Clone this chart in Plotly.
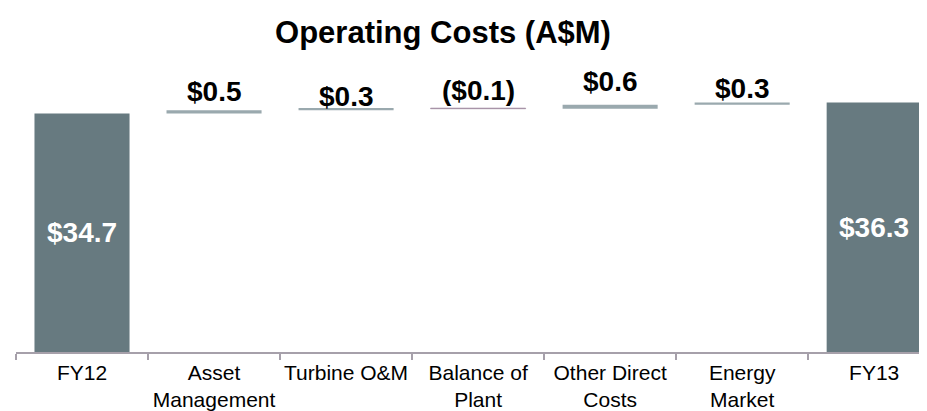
import plotly.graph_objects as go

categories = ["FY12", "Asset<br>Management", "Turbine O&M", "Balance of<br>Plant",
              "Other Direct<br>Costs", "Energy<br>Market", "FY13"]
values = [34.7, 0.5, 0.3, -0.1, 0.6, 0.3, 36.3]
measures = ["absolute", "relative", "relative", "relative", "relative", "relative", "total"]
label_yshift = [0, 19, 12, 18, 23, 14, 0]

TOTAL_C = "#677a80"
UP_C = "#9aa9ae"
DOWN_C = "#a08aa0"
FONT = "Arial, Liberation Sans, sans-serif"

# the page body adds an 8px offset, so the figure is sized to the visible window
W, H = 919, 403


def fmt(v):
    return f"${v:.1f}" if v >= 0 else f"(${abs(v):.1f})"


fig = go.Figure(go.Waterfall(
    x=categories, y=values, measure=measures,
    increasing=dict(marker=dict(color=UP_C)),
    decreasing=dict(marker=dict(color=DOWN_C, line=dict(color=DOWN_C, width=0.6))),
    totals=dict(marker=dict(color=TOTAL_C)),
    connector=dict(visible=False),
    textposition="none",
    hoverinfo="skip",
))

running = 0.0
for i, (c, v, m) in enumerate(zip(categories, values, measures)):
    if m in ("absolute", "total"):
        if m == "absolute":
            running = v
        fig.add_annotation(x=c, y=running / 2, text=f"<b>{fmt(running)}</b>", showarrow=False,
                           font=dict(family=FONT, size=28, color="white"), yanchor="middle")
    else:
        top = max(running, running + v)
        running += v
        fig.add_annotation(x=c, y=top, text=f"<b>{fmt(v)}</b>", showarrow=False,
                           font=dict(family=FONT, size=28, color="black"), yanchor="middle",
                           yshift=label_yshift[i])

fig.update_layout(
    width=W, height=H,
    margin=dict(l=8, r=0, t=52, b=59, autoexpand=False),
    paper_bgcolor="white", plot_bgcolor="white",
    showlegend=False,
    waterfallgap=0.28,
    title=dict(text="<b>Operating Costs (A$M)</b>", x=435 / W, xref="container", xanchor="center",
               y=1 - 24 / H, yref="container", yanchor="middle",
               font=dict(family=FONT, size=31, color="black")),
    font=dict(family=FONT),
)
fig.update_xaxes(type="category", range=[-0.5, 6.4], showline=True, linecolor="#a6a0aa", linewidth=1.5,
                 ticks="outside", tickson="boundaries", ticklen=6, tickcolor="#a6a0aa", tickwidth=1.5,
                 tickangle=0, automargin=False, ticklabelstandoff=1,
                 tickfont=dict(family=FONT, size=21, color="black"), showgrid=False, zeroline=False)
fig.update_yaxes(range=[0, 42.5], visible=False, showgrid=False, zeroline=False, automargin=False)

fig.write_html("out.html")
